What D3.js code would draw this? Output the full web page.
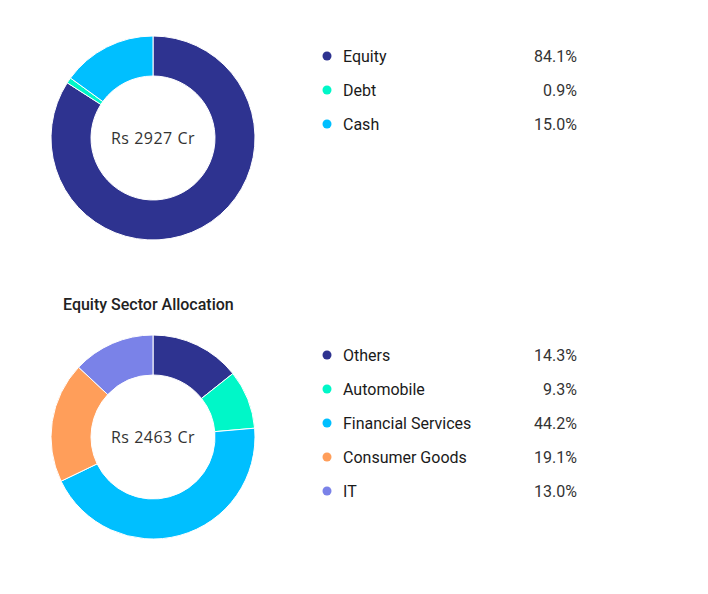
<!DOCTYPE html>
<html lang="en">
  <head>
    <meta charset="UTF-8" />
    <title>Asset and Sector Allocation</title>
    <script src="https://cdnjs.cloudflare.com/ajax/libs/d3/7.8.5/d3.min.js"></script>
    <style>
      body {
        margin: 0;
        background: #fff;
        font-family: Roboto, "Noto Sans", Arial, sans-serif;
      }
      .slice {
        stroke: #fff;
        stroke-width: 1px;
      }
      .center-label {
        font-family: "Open Sans", "Noto Sans", sans-serif;
        font-size: 16px;
        fill: #333;
        letter-spacing: 0.5px;
      }
      .legend-name {
        font-size: 16px;
        fill: #1a1a1a;
      }
      .legend-value {
        font-size: 16px;
        fill: #333;
      }
      .title {
        font-size: 16px;
        font-weight: 500;
        fill: #222;
      }
    </style>
  </head>
  <body>
    <div id="chart"></div>
    <script>
      const width = 708;
      const height = 594;

      // Asset allocation
      const assetNames = ["Equity", "Debt", "Cash"];
      const assetValues = [84.1, 0.9, 15.0];
      const assetColors = ["#2e3390", "#00f7c8", "#00bfff"];
      const assetTotal = "Rs 2927 Cr";

      // Equity sector allocation
      const sectorNames = [
        "Others",
        "Automobile",
        "Financial Services",
        "Consumer Goods",
        "IT",
      ];
      const sectorValues = [14.3, 9.3, 44.2, 19.1, 13.0];
      const sectorColors = ["#2e3390", "#00f7c8", "#00bfff", "#ff9e5a", "#7a82e8"];
      const sectorTotal = "Rs 2463 Cr";

      const svg = d3
        .select("#chart")
        .append("svg")
        .attr("width", width)
        .attr("height", height);

      const outerR = 102;
      const innerR = 62;

      function drawDonut(cx, cy, names, values, colors, total, legendY) {
        const data = names.map((n, i) => ({ name: n, value: values[i], color: colors[i] }));
        const pie = d3.pie().value((d) => d.value).sort(null);
        const arc = d3.arc().innerRadius(innerR).outerRadius(outerR);

        const g = svg.append("g").attr("transform", `translate(${cx},${cy})`);
        g.selectAll("path")
          .data(pie(data))
          .enter()
          .append("path")
          .attr("class", "slice")
          .attr("d", arc)
          .attr("fill", (d) => d.data.color);

        g.append("text")
          .attr("class", "center-label")
          .attr("text-anchor", "middle")
          .attr("dy", "0.35em")
          .text(total);

        // legend rows
        const rowY = d3
          .scalePoint()
          .domain(names)
          .range([legendY, legendY + 34 * (names.length - 1)]);

        const legend = svg.append("g");
        const rows = legend
          .selectAll("g")
          .data(data)
          .enter()
          .append("g")
          .attr("transform", (d) => `translate(0,${rowY(d.name)})`);

        rows.append("circle")
          .attr("cx", 327)
          .attr("cy", 0)
          .attr("r", 4.5)
          .attr("fill", (d) => d.color);

        rows.append("text")
          .attr("class", "legend-name")
          .attr("x", 343)
          .attr("dy", "0.35em")
          .text((d) => d.name);

        rows.append("text")
          .attr("class", "legend-value")
          .attr("x", 577)
          .attr("text-anchor", "end")
          .attr("dy", "0.35em")
          .text((d) => d3.format(".1f")(d.value) + "%");
      }

      drawDonut(153, 138, assetNames, assetValues, assetColors, assetTotal, 56);

      svg.append("text")
        .attr("class", "title")
        .attr("x", 63)
        .attr("y", 310)
        .text("Equity Sector Allocation");

      drawDonut(153, 437, sectorNames, sectorValues, sectorColors, sectorTotal, 355);
    </script>
  </body>
</html>
